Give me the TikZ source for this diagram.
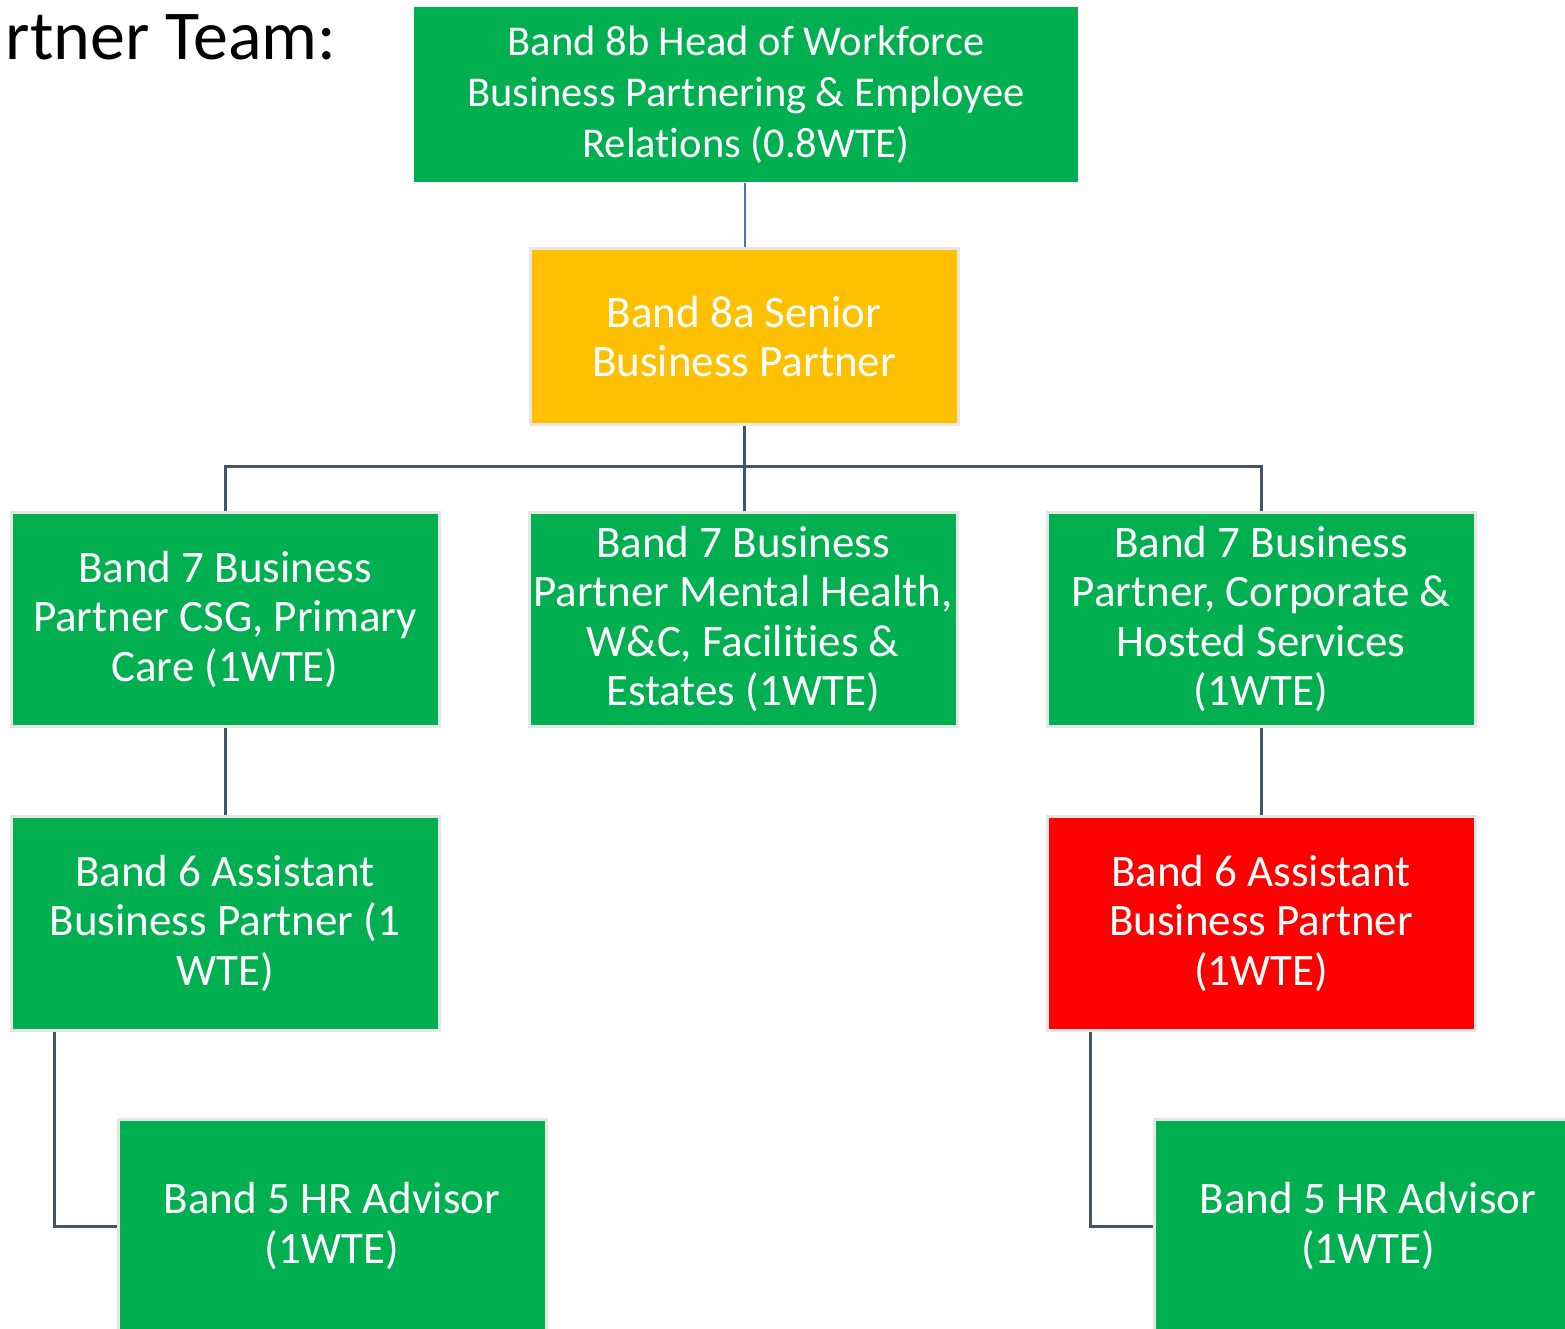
\documentclass[tikz,border=0pt]{standalone}
\usepackage{fontspec}
\setmainfont{Carlito}[RawFeature={-liga;-clig;-calt;-dlig;-rlig}]
\newcommand{\nolig}{\kern0pt }
\definecolor{nhsgreen}{HTML}{00B050}
\definecolor{amber}{HTML}{FFC000}
\definecolor{alertred}{HTML}{FF0000}
\definecolor{edgegrey}{HTML}{E6E6E6}
\definecolor{conngrey}{HTML}{44546A}
\definecolor{connblue}{HTML}{4472C4}
\tikzset{
  box/.style={rectangle, draw=edgegrey, line width=3pt, fill=nhsgreen, text=white,
    minimum width=428pt, minimum height=214pt, align=center, inner sep=0pt,
    font=\fontsize{45}{49.5}\selectfont},
  conn/.style={draw=conngrey, line width=3pt},
}
\begin{document}
\begin{tikzpicture}[x=1pt,y=-1pt]
\useasboundingbox (0,0) rectangle (1565,1329);
\node[anchor=base east, font=\fontsize{70}{80}\selectfont] (title) at (340,60) {rtner Team:};
\node[box, draw=none, minimum width=664pt, minimum height=175pt,
  font=\fontsize{42.5}{51}\selectfont] (b8b) at (746,94.5)
  {Band 8b Head of Workforce\\Business Partnering \& Employee\\Relat\nolig ions (0.8WTE)};
\node[box, fill=amber, minimum height=175pt] (b8a) at (744,336.5)
  {Band 8a Senior\\Business Partner};
\node[box] (b7l) at (225,619) {Band 7 Business\\Partner CSG, Primary\\Care (1WTE)};
\node[box] (b7m) at (743,619) {Band 7 Business\\Partner Mental Health,\\W\&C, Facilit\nolig ies \&\\Estates (1WTE)};
\node[box] (b7r) at (1261,619) {Band 7 Business\\Partner, Corporate \&\\Hosted Services\\(1WTE)};
\node[box] (b6l) at (225,923) {Band 6 Assistant\\Business Partner (1\\WTE)};
\node[box, fill=alertred] (b6r) at (1261,923) {Band 6 Assistant\\Business Partner\\(1WTE)};
\node[box] (b5l) at (332,1226) {Band 5 HR Advisor\\(1WTE)};
\node[box] (b5r) at (1368,1226) {Band 5 HR Advisor\\(1WTE)};
\draw[draw=connblue, line width=1.2pt] ([xshift=-1pt]b8b.south) -- ([xshift=-1pt]b8b.south |- b8a.north);
\coordinate (bus) at (744,466);
\draw[conn] (b8a.south) -- (bus);
\draw[conn] (b7l.north) |- (bus) -| (b7r.north);
\draw[conn] (bus) -- (bus |- b7m.north);
\draw[conn] (b7l.south) -- (b6l.north);
\draw[conn] (b7r.south) -- (b6r.north);
\draw[conn] ([xshift=-171pt]b6l.south) |- (b5l.west);
\draw[conn] ([xshift=-171pt]b6r.south) |- (b5r.west);
\end{tikzpicture}
\end{document}
